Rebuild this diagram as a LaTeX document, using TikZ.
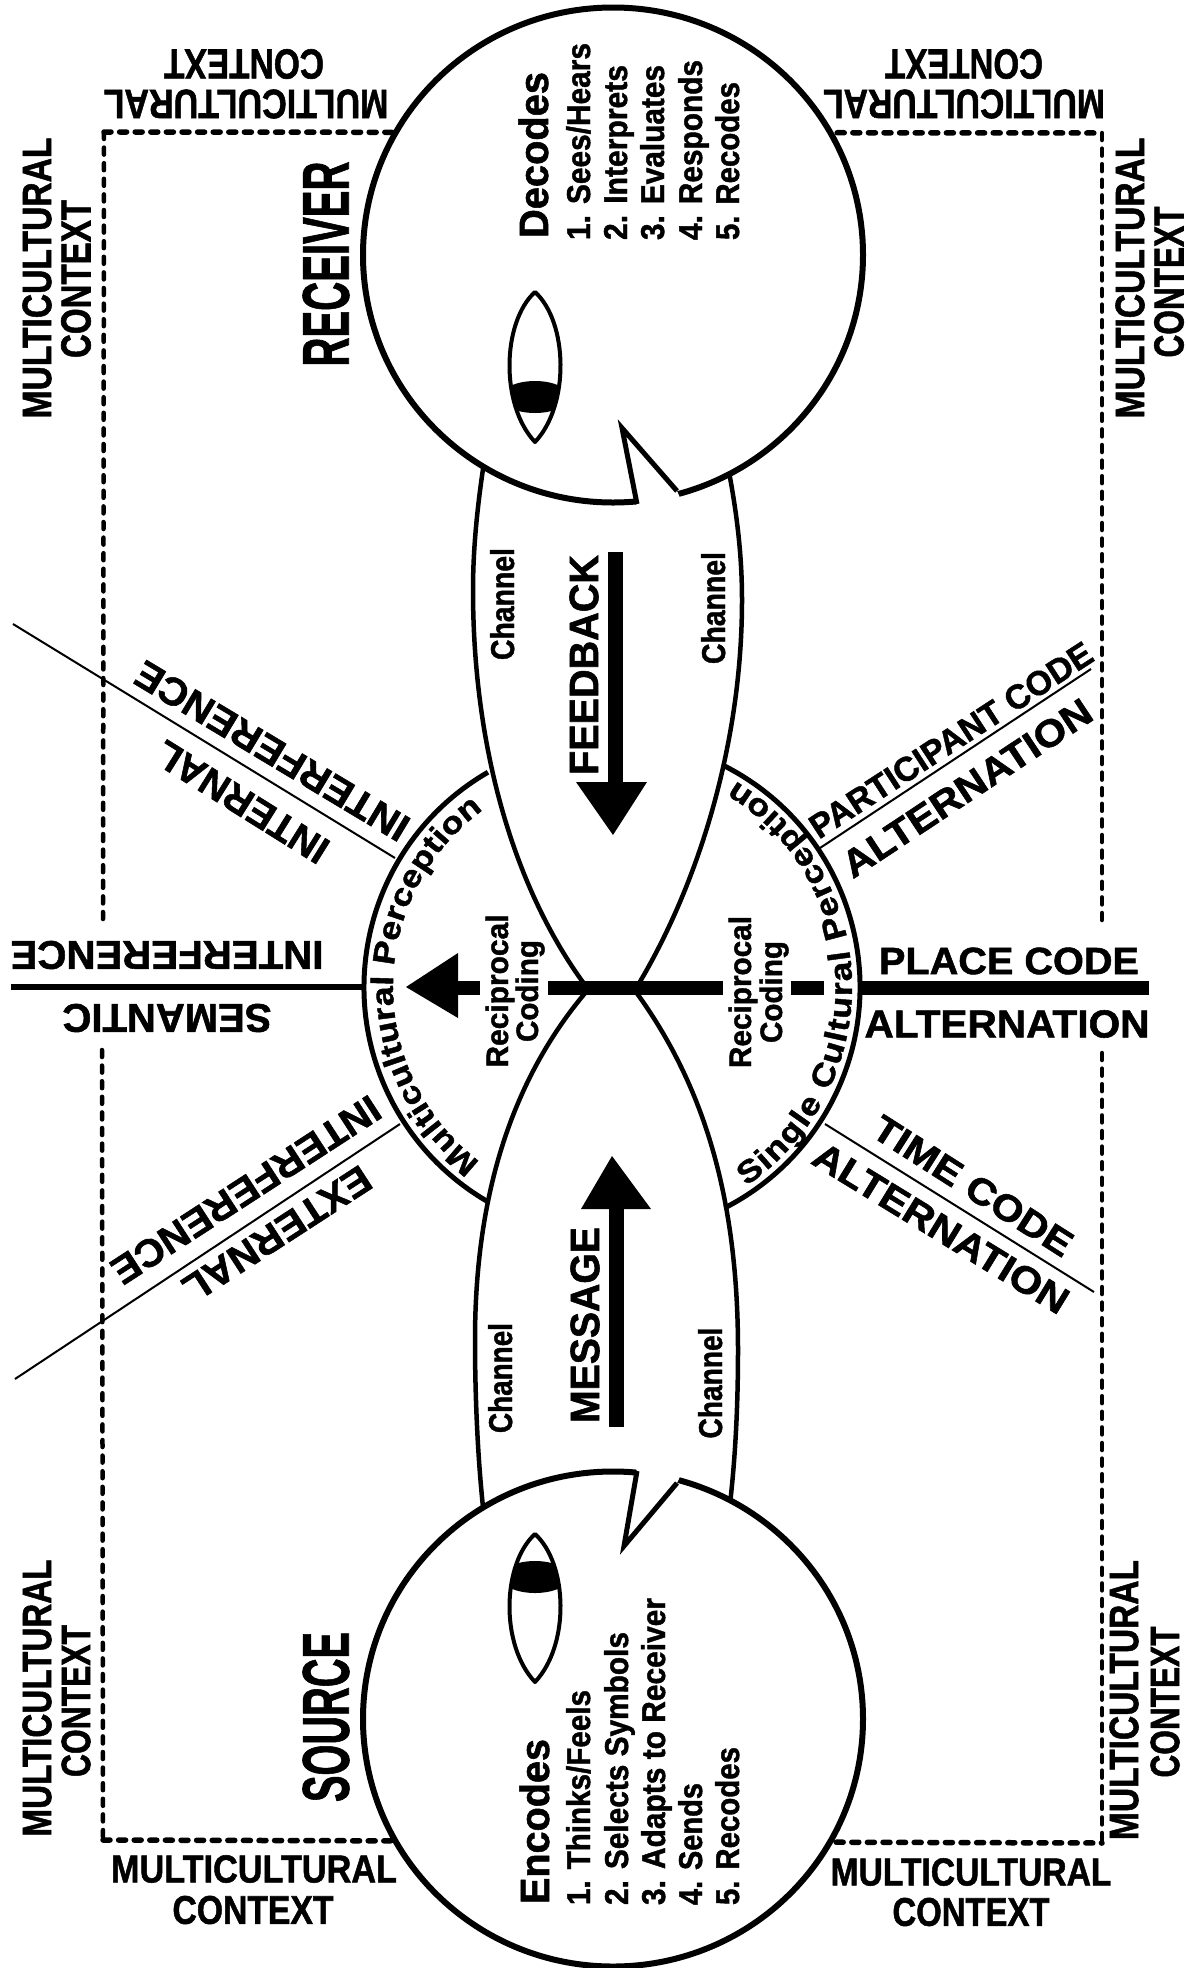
\documentclass[tikz,border=0pt]{standalone}
\usepackage{fontspec}
\setmainfont[BoldFeatures={FakeBold=1.4}]{Liberation Sans}
\newfontfamily\arcfont[FakeStretch=1.15,FakeBold=1.4]{Liberation Sans Bold}
\usetikzlibrary{decorations.text,shapes.geometric}
\newcommand{\tx}[3]{\resizebox{#1pt}{\height}{\fontsize{#2pt}{#2pt}\selectfont\bfseries #3}}
\tikzset{
  lbl/.style={inner sep=0pt,outer sep=0pt},
  side/.style={line width=4.5pt,line cap=round,dash pattern=on 7pt off 8.6pt},
  edge/.style={line width=5.5pt,line cap=round,dash pattern=on 7pt off 8.6pt},
  bubble/.style={line width=4.5pt},
  head/.style={ellipse,line width=6pt,fill=white,draw=black,minimum width=500pt,minimum height=495pt,inner sep=0pt},
  thinline/.style={line width=2pt},
  shaft/.style={line width=14pt},
  eyeline/.style={line width=4pt,line join=round},
}
\begin{document}
\begin{tikzpicture}[x=1pt,y=-1pt]
\useasboundingbox (0,0) rectangle (1187,1968);
\fill[white] (0,0) rectangle (1187,1968);
\coordinate (c) at (612,987);
% context frame
\coordinate (tl) at (104,132); \coordinate (tr) at (1102,133);
\coordinate (bl) at (103,1840); \coordinate (br) at (1102,1843);
\coordinate (lu) at (103,927); \coordinate (ld) at (102,1050);
\coordinate (ru) at (1102,927); \coordinate (rd) at (1102,1053);
\draw[side] (tl) -- (lu); \draw[side] (ld) -- (bl);
\draw[side] (tr) -- (ru); \draw[side] (rd) -- (br);
\draw[edge] (tl) -- (tr); \draw[edge] (bl) -- (br);
% perception circle arcs
\draw[line width=5pt] ([shift={(120:248pt)}]c) arc[start angle=120,end angle=240,radius=248pt];
\draw[line width=5pt] ([shift={(63:248pt)}]c) arc[start angle=63,end angle=-63,radius=248pt];
% channels
\draw[bubble] (483,469) .. controls (477,510) and (473,550) .. (473,590) .. controls (473,750) and (515,890) .. (585,985);
\draw[bubble] (729,472) .. controls (738,520) and (742,560) .. (742,600) .. controls (742,750) and (695,890) .. (638,985);
\draw[bubble] (586,992) .. controls (520,1070) and (475,1180) .. (475,1340) .. controls (475,1400) and (478,1460) .. (483,1507);
\draw[bubble] (636,992) .. controls (700,1080) and (738,1190) .. (738,1350) .. controls (738,1410) and (735,1460) .. (730,1504);
% heads
\node[head] (receiver) at (613,255) {};
\node[head] (source) at (613,1719) {};
\fill[white] (637,500) -- (622,428) -- (677,491) -- (690,520) -- (635,520) -- cycle;
\draw[line width=5pt,line join=miter] (637,504) -- (622,428) -- (677,491);
\fill[white] (637,1475) -- (624,1546) -- (677,1483) -- (690,1455) -- (635,1455) -- cycle;
\draw[line width=5pt,line join=miter] (637,1471) -- (624,1546) -- (677,1483);
% eyes
\begin{scope}
\clip (535,292) .. controls (502,322) and (500,405) .. (535,442) .. controls (570,405) and (568,322) .. (535,292) -- cycle;
\fill (535,397) ellipse[x radius=34pt,y radius=16pt];
\end{scope}
\draw[eyeline] (535,292) .. controls (502,322) and (500,405) .. (535,442) .. controls (570,405) and (568,322) .. (535,292) -- cycle;
\begin{scope}
\clip (535,1534) .. controls (502,1564) and (500,1645) .. (535,1682) .. controls (570,1645) and (568,1564) .. (535,1534) -- cycle;
\fill (535,1577) ellipse[x radius=34pt,y radius=16pt];
\end{scope}
\draw[eyeline] (535,1534) .. controls (502,1564) and (500,1645) .. (535,1682) .. controls (570,1645) and (568,1564) .. (535,1534) -- cycle;
% central bars and arrows
\coordinate (fbtop) at (615.5,552); \coordinate (fbend) at (615.5,785);
\draw[shaft,line width=15pt] (fbtop) -- (fbend);
\fill (576,782) -- (647,782) -- (613,835) -- cycle;
\coordinate (mstop) at (616.5,1427); \coordinate (msend) at (616.5,1205);
\draw[shaft,line width=15pt] (mstop) -- (msend);
\fill (581,1209) -- (651,1209) -- (612,1156) -- cycle;
\draw[shaft] (480,987.5) -- (455,987.5);
\fill (458,953) -- (458,1018) -- (406,987) -- cycle;
\draw[shaft] (548,988) -- (723,988);
\draw[shaft] (791,988) -- (824,988);
\draw[shaft] (858,988) -- (1149,988);
\draw[line width=6pt] (11,987) -- (362,987);
% interference lines
\draw[thinline] (13,624) -- (395,858);
\draw[thinline] (400,1124) -- (15,1379);
\draw[thinline] (820,848) -- (1091,669);
\draw[thinline] (825,1124) -- (1094,1292);
% curved text
\path[decorate,decoration={text along path,text align={fit to path},text={|\fontsize{31pt}{31pt}\arcfont|Multicultural Perception}}]
  ([shift={(233:219pt)}]c) arc[start angle=233,end angle=126,radius=219pt];
\path[decorate,decoration={text along path,text align={fit to path},text={|\fontsize{31pt}{31pt}\arcfont|Single Cultural Perception}}]
  ([shift={(-56:240pt)}]c) arc[start angle=-56,end angle=59,radius=240pt];
% context labels
\node[lbl,rotate=180] (a1) at (246,104) {\tx{285}{41}{MULTICULTURAL}};
\node[lbl,rotate=180] (a2) at (244,64) {\tx{160}{42}{CONTEXT}};
\node[lbl,rotate=180] (a3) at (964,104) {\tx{282}{41}{MULTICULTURAL}};
\node[lbl,rotate=180] (a4) at (964,64) {\tx{158}{42}{CONTEXT}};
\node[lbl,rotate=90] (b1) at (37,278) {\tx{281}{41}{MULTICULTURAL}};
\node[lbl,rotate=90] (b2) at (76,279) {\tx{158}{42}{CONTEXT}};
\node[lbl,rotate=90] (b3) at (1130,278) {\tx{281}{41}{MULTICULTURAL}};
\node[lbl,rotate=90] (b4) at (1169,282) {\tx{151}{42}{CONTEXT}};
\node[lbl,rotate=90] (b5) at (37,1698) {\tx{277}{41}{MULTICULTURAL}};
\node[lbl,rotate=90] (b6) at (76,1701) {\tx{152}{41}{CONTEXT}};
\node[lbl,rotate=90] (b7) at (1124,1700) {\tx{280}{41}{MULTICULTURAL}};
\node[lbl,rotate=90] (b8) at (1165,1702) {\tx{151}{41}{CONTEXT}};
\node[lbl] (c1) at (254,1869) {\tx{286}{39}{MULTICULTURAL}};
\node[lbl] (c2) at (253,1910) {\tx{161}{40}{CONTEXT}};
\node[lbl] (c3) at (971,1872) {\tx{281}{39}{MULTICULTURAL}};
\node[lbl] (c4) at (971,1912) {\tx{157}{40}{CONTEXT}};
% heads text
\node[lbl,rotate=90] (rcv) at (326,264) {\tx{205}{66}{RECEIVER}};
\node[lbl,rotate=90] (src) at (326,1717) {\tx{170}{66}{SOURCE}};
\node[lbl,rotate=90,anchor=base west] (dec) at (548,238) {\tx{166}{41}{Decodes}};
\node[lbl,rotate=90,anchor=base west] (d1) at (590,240) {\tx{197}{33}{1. Sees/Hears}};
\node[lbl,rotate=90,anchor=base west] (d2) at (627,240) {\tx{175}{33}{2. Interprets}};
\node[lbl,rotate=90,anchor=base west] (d3) at (664,240) {\tx{175}{33}{3. Evaluates}};
\node[lbl,rotate=90,anchor=base west] (d4) at (702,240) {\tx{180}{33}{4. Responds}};
\node[lbl,rotate=90,anchor=base west] (d5) at (739,240) {\tx{158}{33}{5. Recodes}};
\node[lbl,rotate=90,anchor=base west] (enc) at (549,1904) {\tx{165}{41}{Encodes}};
\node[lbl,rotate=90,anchor=base west] (e1) at (590,1905) {\tx{215}{33}{1. Thinks/Feels}};
\node[lbl,rotate=90,anchor=base west] (e2) at (628,1905) {\tx{273}{33}{2. Selects Symbols}};
\node[lbl,rotate=90,anchor=base west] (e3) at (665,1905) {\tx{307}{33}{3. Adapts to Receiver}};
\node[lbl,rotate=90,anchor=base west] (e4) at (702,1905) {\tx{122}{33}{4. Sends}};
\node[lbl,rotate=90,anchor=base west] (e5) at (739,1905) {\tx{158}{33}{5. Recodes}};
% channels text
\node[lbl,rotate=90,anchor=base] (ch1) at (514,604) {\tx{112}{33}{Channel}};
\node[lbl,rotate=90,anchor=base] (ch2) at (725,608) {\tx{112}{33}{Channel}};
\node[lbl,rotate=90,anchor=base] (ch3) at (512,1378) {\tx{110}{33}{Channel}};
\node[lbl,rotate=90,anchor=base] (ch4) at (722,1383) {\tx{111}{33}{Channel}};
\node[lbl,rotate=90] (fb) at (584,665) {\tx{220}{41}{FEEDBACK}};
\node[lbl,rotate=90] (ms) at (585,1325) {\tx{196}{41}{MESSAGE}};
\node[lbl,rotate=90,anchor=base] (r1) at (508,991) {\tx{153}{31}{Reciprocal}};
\node[lbl,rotate=90,anchor=base] (r2) at (538,991) {\tx{102}{31}{Coding}};
\node[lbl,rotate=90,anchor=base] (r3) at (751,992) {\tx{152}{31}{Reciprocal}};
\node[lbl,rotate=90,anchor=base] (r4) at (782,992) {\tx{102}{31}{Coding}};
% horizontal
\node[lbl,rotate=180] (i1) at (167,955) {\tx{313}{40}{INTERFERENCE}};
\node[lbl,rotate=180] (i2) at (167,1018) {\tx{209}{40}{SEMANTIC}};
\node[lbl] (p1) at (1009,961) {\tx{260}{38}{PLACE CODE}};
\node[lbl] (p2) at (1007,1024) {\tx{285}{39}{ALTERNATION}};
% diagonal
\node[lbl,rotate=149] (u1) at (272,751) {\tx{312}{39}{INTERFERENCE}};
\node[lbl,rotate=148] (u2) at (242,802) {\tx{196}{39}{INTERNAL}};
\node[lbl,rotate=213] (l1) at (246,1190) {\tx{312}{39}{INTERFERENCE}};
\node[lbl,rotate=213] (l2) at (277,1234) {\tx{216}{39}{EXTERNAL}};
\node[lbl,rotate=33] (v1) at (951,740) {\tx{330}{34}{PARTICIPANT CODE}};
\node[lbl,rotate=33.5] (v2) at (967,788) {\tx{291}{38}{ALTERNATION}};
\node[lbl,rotate=-32.5] (w1) at (973,1186) {\tx{229}{37}{TIME CODE}};
\node[lbl,rotate=-31.5] (w2) at (941,1228) {\tx{292}{38}{ALTERNATION}};
\end{tikzpicture}
\end{document}
